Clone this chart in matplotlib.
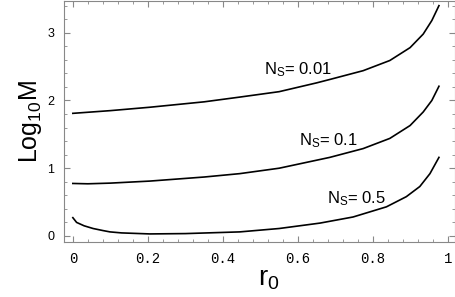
import matplotlib
matplotlib.use('Agg')
import matplotlib.pyplot as plt
from matplotlib.ticker import MultipleLocator

# curves: log10 M versus r0
r_001 = [0, 0.1, 0.205, 0.35, 0.445, 0.55, 0.65, 0.685, 0.774, 0.845, 0.899, 0.934, 0.957, 0.976]
m_001 = [1.81, 1.85, 1.90, 1.98, 2.05, 2.13, 2.26, 2.31, 2.44, 2.59, 2.78, 2.98, 3.18, 3.40]

r_01 = [0, 0.04, 0.1, 0.205, 0.35, 0.445, 0.55, 0.685, 0.774, 0.845, 0.899, 0.934, 0.957, 0.976]
m_01 = [0.775, 0.77, 0.78, 0.81, 0.87, 0.92, 1.00, 1.16, 1.29, 1.44, 1.63, 1.83, 2.0, 2.21]

r_05 = [0, 0.01, 0.03, 0.054, 0.08, 0.099, 0.13, 0.205, 0.3, 0.445, 0.55, 0.659, 0.747,
        0.836, 0.889, 0.925, 0.952, 0.976]
m_05 = [0.27, 0.20, 0.15, 0.11, 0.08, 0.06, 0.045, 0.03, 0.035, 0.06, 0.11, 0.19, 0.28,
        0.43, 0.58, 0.73, 0.92, 1.16]

labels = ['0.01', '0.1', '0.5']
label_pos = [(0.510, 2.39), (0.603, 1.34), (0.678, 0.48)]

xticks = [0, 0.2, 0.4, 0.6, 0.8, 1]
xticklabels = ['0', '0.2', '0.4', '0.6', '0.8', '1']
yticks = [0, 1, 2, 3]

fig = plt.figure(figsize=(4.56, 2.97), dpi=100)
ax = fig.add_axes([0.140, 0.185, 0.858, 0.812])

for r, m in [(r_001, m_001), (r_01, m_01), (r_05, m_05)]:
  ax.plot(r, m, color='black', lw=1.2, solid_joinstyle='round')

for lab, (x, y) in zip(labels, label_pos):
  ax.text(x, y, '$\\mathregular{N_S}$= ' + lab, fontsize=12, ha='left', va='baseline',
          family='Liberation Sans')

ax.set_xlim(-0.024, 1.019)
ax.set_ylim(-0.09, 3.47)

ax.set_xticks(xticks)
ax.set_xticklabels(xticklabels, family='Liberation Mono', fontsize=10)
ax.set_yticks(yticks)
ax.set_yticklabels([str(v) for v in yticks], family='Liberation Sans', fontsize=9)
ax.xaxis.set_minor_locator(MultipleLocator(0.04))
ax.yaxis.set_minor_locator(MultipleLocator(0.2))
ax.tick_params(which='both', direction='in', top=True, right=True, color='#888888')
ax.tick_params(which='major', length=4, width=0.8)
ax.tick_params(which='minor', length=2, width=0.6)
ax.tick_params(axis='x', pad=7)
ax.tick_params(axis='y', pad=7)
for s in ax.spines.values():
  s.set_color('#888888')

ax.set_xlabel('$\\mathregular{r_0}$', fontsize=20, family='Liberation Sans')
ax.xaxis.set_label_coords(0.525, -0.1)
ax.set_ylabel('$\\mathregular{Log_{10}M}$', fontsize=18, family='Liberation Sans', labelpad=2)

fig.savefig('out.png', dpi=100)
